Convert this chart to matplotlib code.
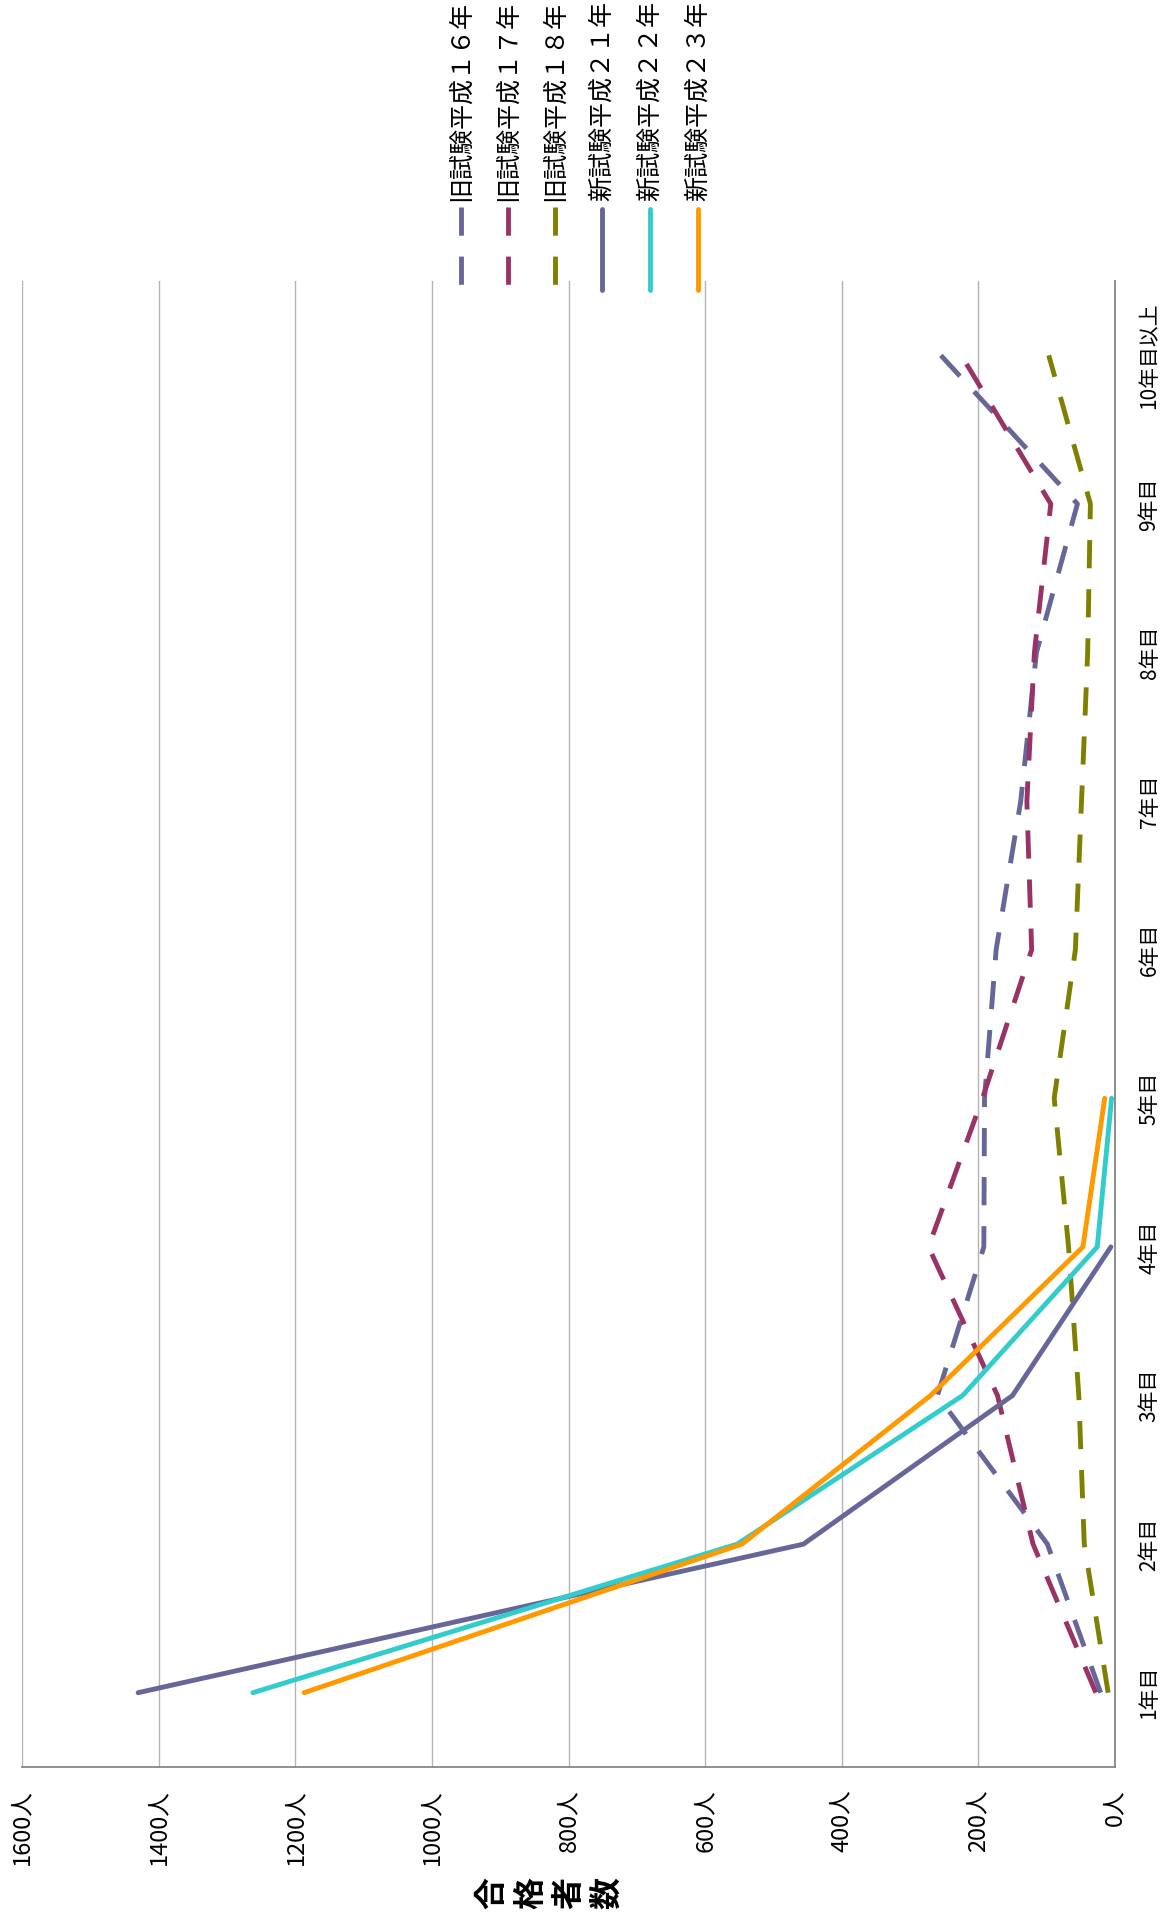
import matplotlib
matplotlib.use('Agg')
import matplotlib.pyplot as plt
from matplotlib.lines import Line2D

plt.rcParams['font.family'] = ['Noto Sans CJK JP', 'DejaVu Sans']

categories = ['1年目', '2年目', '3年目', '4年目', '5年目', '6年目', '7年目', '8年目', '9年目', '10年目以上']
value_ticks = [0, 200, 400, 600, 800, 1000, 1200, 1400, 1600]

series_names = ['旧試験平成１６年', '旧試験平成１７年', '旧試験平成１８年',
                '新試験平成２１年', '新試験平成２２年', '新試験平成２３年']
old_h16 = [21, 99, 260, 192, 191, 174, 138, 115, 55, 255]
old_h17 = [28, 120, 172, 273, 194, 122, 129, 118, 94, 225]
old_h18 = [10, 45, 53, 68, 89, 58, 49, 40, 36, 97]
new_h21 = [1430, 456, 150, 6]
new_h22 = [1262, 553, 223, 26, 5]
new_h23 = [1187, 546, 270, 47, 15]

series_values = [old_h16, old_h17, old_h18, new_h21, new_h22, new_h23]
colors = ['#666699', '#993366', '#808000', '#666699', '#33CCCC', '#FF9900']
dashed = [True, True, True, False, False, False]

W, H = 1170, 1917
fig = plt.figure(figsize=(W / 100, H / 100), dpi=100)

# plot area (pixel box, top-left origin)
left, right, top, bottom = 22, 1115, 281, 1767
ax = fig.add_axes([left / W, 1 - bottom / H, (right - left) / W, (bottom - top) / H])

lw = 3.5
dash = (0, (5.8, 4.3))

# the chart is laid on its side: values run right-to-left, categories bottom-to-top
for vals, c, d in zip(series_values, colors, dashed):
    ys = list(range(len(vals)))
    if d:
        ax.plot(vals, ys, color=c, lw=lw, linestyle=dash, dash_capstyle='butt', zorder=3)
    else:
        ax.plot(vals, ys, color=c, lw=lw, solid_capstyle='round', solid_joinstyle='miter', zorder=3)

ax.set_xlim(1600, 0)
ax.set_ylim(-0.5, len(categories) - 0.5)

ax.set_xticks(value_ticks)
ax.set_xticklabels(['%d人' % v for v in value_ticks], rotation=90, fontsize=17, va='top')
ax.tick_params(axis='x', length=0, pad=16)

ax.yaxis.tick_right()
ax.set_yticks(range(len(categories)))
ax.set_yticklabels(categories, rotation=90, fontsize=15, va='center', ha='left')
ax.tick_params(axis='y', length=0, pad=17)

ax.grid(axis='x', color='#b3b3b3', lw=1)
ax.set_axisbelow(True)
for s in ['top', 'left']:
    ax.spines[s].set_visible(False)
for s in ['right', 'bottom']:
    ax.spines[s].set_color('#868686')
    ax.spines[s].set_linewidth(1.3)

# axis title, characters stacked then turned
fig.text(550 / W, 1 - 1893 / H, '合\n格\n者\n数', rotation=90, fontsize=23, fontweight='bold',
         ha='center', va='center', linespacing=1.25, multialignment='center')

# legend along the top
leg_x = [461, 508, 555, 602, 650, 698]
for name, x, c, d in zip(series_names, leg_x, colors, dashed):
    fig.text(x / W, 1 - 201 / H, name, rotation=90, fontsize=18, ha='center', va='bottom')
    if d:
        ln = Line2D([x / W, x / W], [1 - 207 / H, 1 - 292 / H], color=c, lw=lw,
                    linestyle=dash, dash_capstyle='butt')
    else:
        ln = Line2D([x / W, x / W], [1 - 209 / H, 1 - 290 / H], color=c, lw=lw,
                    solid_capstyle='round')
    fig.add_artist(ln)

fig.savefig('out.png', dpi=100)
